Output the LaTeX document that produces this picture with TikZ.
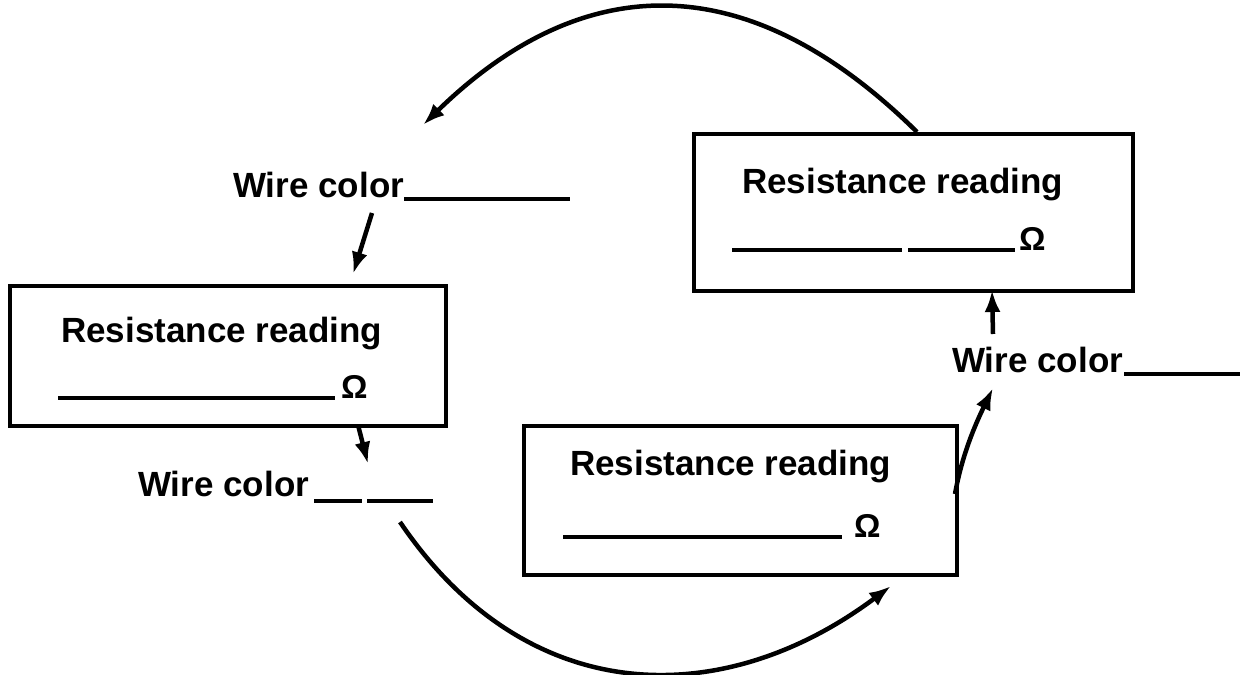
\documentclass[tikz,border=0pt]{standalone}
\usepackage{fontspec}
\setmainfont{Liberation Sans}
\usetikzlibrary{arrows.meta}
\begin{document}
\begin{tikzpicture}[x=1pt,y=1pt,
  box/.style={draw, line width=3.8pt, rectangle, anchor=north west, inner sep=0pt},
  lbl/.style={anchor=base west, inner sep=0pt, font=\fontsize{35}{42}\selectfont\bfseries},
  ohm/.style={anchor=base west, inner sep=0pt, font=\fontsize{33}{38}\selectfont\bfseries},
  blank/.style={line width=3.2pt},
  conn/.style={line width=4.5pt, -{Latex[length=22pt,width=16pt]}}]
\useasboundingbox (0,-674) rectangle (1241,0);

% boxes
\node[box, minimum width=439pt, minimum height=157pt] (r1) at (692,-132) {};
\node[box, minimum width=436pt, minimum height=140pt] (r2) at (8,-284) {};
\node[box, minimum width=433pt, minimum height=149pt] (r3) at (522,-424) {};

% box texts
\node[lbl] (t1) at (742,-193) {Resistance reading};
\node[ohm] (o1) at (1019,-250) {Ω};
\draw[blank] (732,-250) -- (902,-250) (908,-250) -- (1015,-250);

\node[lbl] (t2) at (61,-342) {Resistance reading};
\node[ohm] (o2) at (341,-398) {Ω};
\draw[blank] (58,-398) -- (335,-398);

\node[lbl] (t3) at (570,-475) {Resistance reading};
\node[ohm] (o3) at (854,-537) {Ω};
\draw[blank] (563,-537) -- (842,-537);

% wire colour labels
\node[lbl] (w1) at (233,-197) {Wire color};
\draw[blank] (404,-199) -- (570,-199);
\node[lbl] (w2) at (138,-496) {Wire color};
\draw[blank] (314,-501) -- (362,-501) (367,-501) -- (433,-501);
\node[lbl] (w3) at (952,-372) {Wire color};
\draw[blank] (1124,-374) -- (1240,-374);

% connector end points
\coordinate (a1) at (917,-132);
\coordinate (a2) at (423,-125);
\coordinate (b1) at (372,-213);
\coordinate (b2) at (353,-274);
\coordinate (c1) at (358,-425);
\coordinate (c2) at (368,-464);
\coordinate (d1) at (400,-522);
\coordinate (d2) at (891,-586);
\coordinate (e1) at (955,-494);
\coordinate (e2) at (993,-388);
\coordinate (f1) at (993,-334);
\coordinate (f2) at (992,-290);

\draw[conn] (a1) .. controls (750,33) and (585,33) .. (a2);
\draw[conn] (b1) -- (b2);
\draw[conn] (c1) -- (c2);
\draw[conn] (d1) .. controls (528,-711) and (724,-711) .. (d2);
\draw[conn] (e1) .. controls (962,-455) and (975,-425) .. (e2);
\draw[conn] (f1) -- (f2);
\end{tikzpicture}
\end{document}
